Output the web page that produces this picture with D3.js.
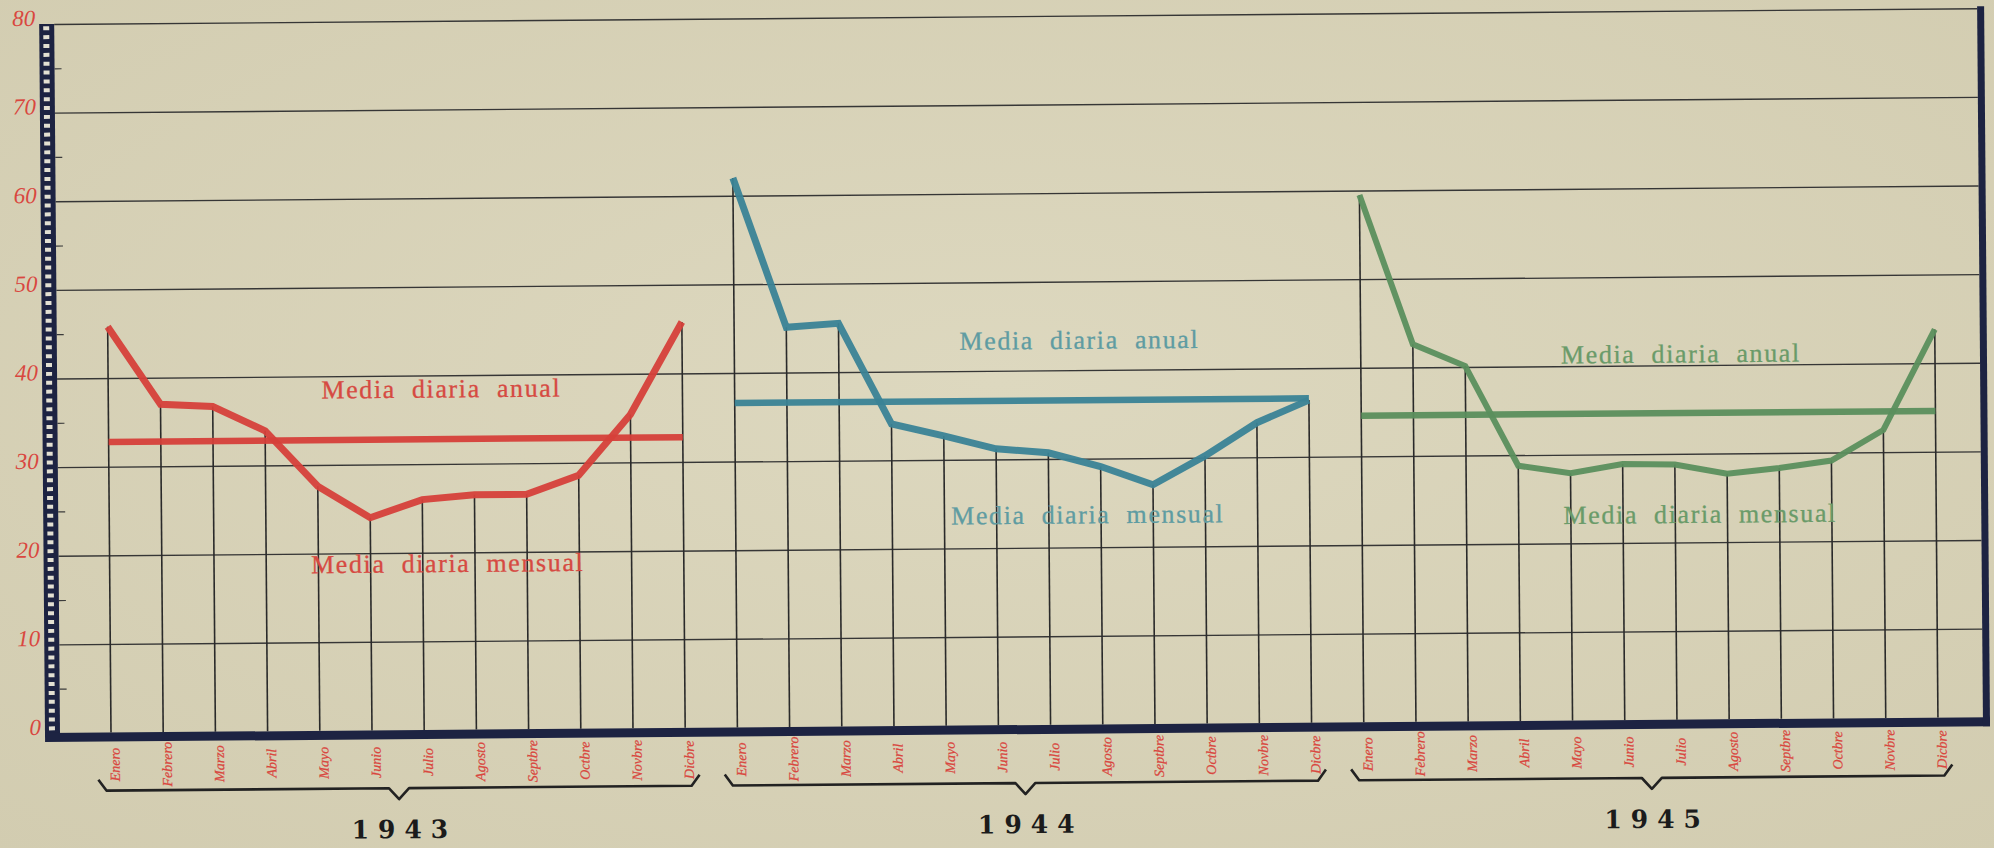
<!DOCTYPE html>
<html>
<head>
<meta charset="utf-8">
<script src="https://cdn.jsdelivr.net/npm/d3@7"></script>
<style>
  html, body { margin: 0; padding: 0; background: #d8d3b9; }
  svg { display: block; }
</style>
</head>
<body>
<script>
// ---------------- DATA ----------------
const years = ["1943", "1944", "1945"];
const months = ["Enero", "Febrero", "Marzo", "Abril", "Mayo", "Junio", "Julio", "Agosto", "Septbre", "Octbre", "Novbre", "Dicbre"];
const values1943 = [45.8, 37.0, 36.7, 33.9, 27.6, 24.0, 26.0, 26.5, 26.5, 28.6, 35.4, 45.8];
const values1944 = [62.0, 45.1, 45.5, 34.1, 32.7, 31.2, 30.7, 29.1, 27.0, 30.2, 33.9, 36.4];
const values1945 = [59.5, 42.6, 40.1, 28.8, 27.9, 28.9, 28.8, 27.7, 28.3, 29.1, 32.5, 43.8];
const annualMeans = [32.8, 36.6, 34.6];
const yTicks = [0, 10, 20, 30, 40, 50, 60, 70, 80];
const labelAnual = "Media diaria anual";
const labelMensual = "Media diaria mensual";

// ---------------- LAYOUT ----------------
const W = 1994, H = 848;
const seriesValues = [values1943, values1944, values1945];
const lineColors = ["#d6403a", "#3a8396", "#5b8f5d"];
const textColors = ["#d64a42", "#5f9ca2", "#6a9b69"];
const red = "#d9473f";
const navy = "#1d2342";
const ink = "#2a2a2a";

const svg = d3.select("body").append("svg").attr("width", W).attr("height", H);

// paper background with slight vignette
const defs = svg.append("defs");
const grad = defs.append("radialGradient").attr("id", "paper").attr("cx", "50%").attr("cy", "45%").attr("r", "75%");
grad.append("stop").attr("offset", "0%").attr("stop-color", "#ddd8bf");
grad.append("stop").attr("offset", "100%").attr("stop-color", "#d2ccb0");
svg.append("rect").attr("width", W).attr("height", H).attr("fill", "url(#paper)");

// whole sheet slightly skewed like the scan
const g = svg.append("g").attr("transform", "rotate(-0.47,57,733)");

const keys = years.flatMap(yr => months.map(m => yr + "-" + m));
const x = d3.scalePoint().domain(keys).range([111, 1938]);
const y = d3.scaleLinear().domain([0, 80]).range([733, 24]);

const barX0 = 45, barX1 = 60, rightX = 1983;

// horizontal grid lines via axis
const grid = g.append("g").attr("transform", `translate(${barX1},0)`)
  .call(d3.axisRight(y).tickValues(yTicks.filter(v => v > 0)).tickSize(rightX - barX1).tickFormat(""));
grid.select(".domain").remove();
grid.selectAll("line").attr("stroke", "#363636").attr("stroke-width", 1.4);

// small 5-unit ticks on the bar
const minor = g.append("g").attr("transform", `translate(${barX1},0)`)
  .call(d3.axisRight(y).tickValues(d3.range(5, 80, 10)).tickSize(7).tickFormat(""));
minor.select(".domain").remove();
minor.selectAll("line").attr("stroke", "#3b3b3b").attr("stroke-width", 1.2);

// y tick labels
const ylab = g.append("g").attr("transform", "translate(41,0)")
  .call(d3.axisLeft(y).tickValues(yTicks).tickSize(0).tickPadding(0));
ylab.select(".domain").remove();
ylab.selectAll("text")
  .attr("dy", "0.05em")
  .attr("fill", red)
  .style("font-family", "'Liberation Serif', serif")
  .style("font-style", "italic")
  .style("font-size", "23px");

// checkered bar
g.append("rect").attr("x", barX0).attr("y", y(80)).attr("width", barX1 - barX0).attr("height", y(0) - y(80) + 2).attr("fill", navy);
g.append("g").selectAll("rect").data(d3.range(0, 80)).join("rect")
  .attr("x", barX0 + 4).attr("width", 6)
  .attr("y", d => y(d + 0.75)).attr("height", d => y(d + 0.3) - y(d + 0.75))
  .attr("fill", "#e3e0d2");

// vertical month lines, up to each value
years.forEach((yr, i) => {
  g.append("g").selectAll("line").data(seriesValues[i]).join("line")
    .attr("x1", (d, j) => x(yr + "-" + months[j])).attr("x2", (d, j) => x(yr + "-" + months[j]))
    .attr("y1", y(0)).attr("y2", d => y(d))
    .attr("stroke", ink).attr("stroke-width", 1.6);
});

// annual mean lines
years.forEach((yr, i) => {
  g.append("line")
    .attr("x1", x(yr + "-" + months[0])).attr("x2", x(yr + "-" + months[11]))
    .attr("y1", y(annualMeans[i])).attr("y2", y(annualMeans[i]))
    .attr("stroke", lineColors[i]).attr("stroke-width", 6.5).attr("opacity", 0.95);
});

// monthly series
const line = d3.line().x(d => x(d.k)).y(d => y(d.v));
years.forEach((yr, i) => {
  const pts = seriesValues[i].map((v, j) => ({ k: yr + "-" + months[j], v }));
  g.append("path").datum(pts).attr("d", line)
    .attr("fill", "none").attr("stroke", lineColors[i])
    .attr("stroke-width", i === 2 ? 6 : 7)
    .attr("stroke-linejoin", "miter").attr("stroke-miterlimit", 3)
    .attr("opacity", 0.95);
});

// series labels
const labelFont = "'Liberation Serif', 'Times New Roman', serif";
const labelPos = [
  { anX: 46, anV: 37.5, meX: 51, meV: 17.8 },
  { anX: 58, anV: 42.4, meX: 65, meV: 22.7 },
  { anX: 33, anV: 40.3, meX: 51, meV: 22.2 }
];
years.forEach((yr, i) => {
  const mid = (x(yr + "-" + months[0]) + x(yr + "-" + months[11])) / 2;
  const p = labelPos[i];
  [[labelAnual, p.anX, p.anV], [labelMensual, p.meX, p.meV]].forEach(([t, dx, v]) => {
    g.append("text").text(t)
      .attr("x", mid + dx).attr("y", y(v))
      .attr("text-anchor", "middle")
      .attr("fill", textColors[i])
      .attr("stroke", textColors[i]).attr("stroke-width", 0.3)
      .style("font-family", labelFont)
      .style("font-size", "26px")
      .style("letter-spacing", "1.6px")
      .style("word-spacing", "8px");
  });
});

// bottom axis and right border
g.append("rect").attr("x", barX0).attr("y", y(0)).attr("width", 1990 - barX0).attr("height", 9).attr("fill", navy);
g.append("rect").attr("x", rightX).attr("y", y(80) - 2).attr("width", 7).attr("height", y(0) - y(80) + 11).attr("fill", navy);

// month labels
g.append("g").selectAll("text").data(keys).join("text")
  .attr("transform", d => `translate(${x(d) + 4},765) rotate(-90)`)
  .attr("text-anchor", "middle")
  .attr("dominant-baseline", "central")
  .attr("fill", red)
  .attr("stroke", red).attr("stroke-width", 0.25)
  .style("font-family", "'Liberation Serif', serif")
  .style("font-style", "italic")
  .style("font-size", "14px")
  .text(d => d.split("-")[1]);

// braces and year labels
years.forEach((yr, i) => {
  const xs = x(yr + "-" + months[0]) - 13;
  const xe = x(yr + "-" + months[11]) + 14;
  const xm = (xs + xe) / 2;
  const pts = [[xs, 780], [xs + 8, 791], [xm - 10, 791], [xm, 802], [xm + 10, 791], [xe - 8, 791], [xe, 780]];
  g.append("path").attr("d", d3.line()(pts))
    .attr("fill", "none").attr("stroke", "#222").attr("stroke-width", 2.6).attr("stroke-linejoin", "round");
  g.append("text").text(yr)
    .attr("x", xm + 5).attr("y", 841)
    .attr("text-anchor", "middle")
    .attr("fill", "#1b1b1b")
    .style("font-family", "'DejaVu Serif', serif")
    .style("font-weight", "bold")
    .style("font-size", "25px")
    .style("letter-spacing", "9px");
});
</script>
</body>
</html>
